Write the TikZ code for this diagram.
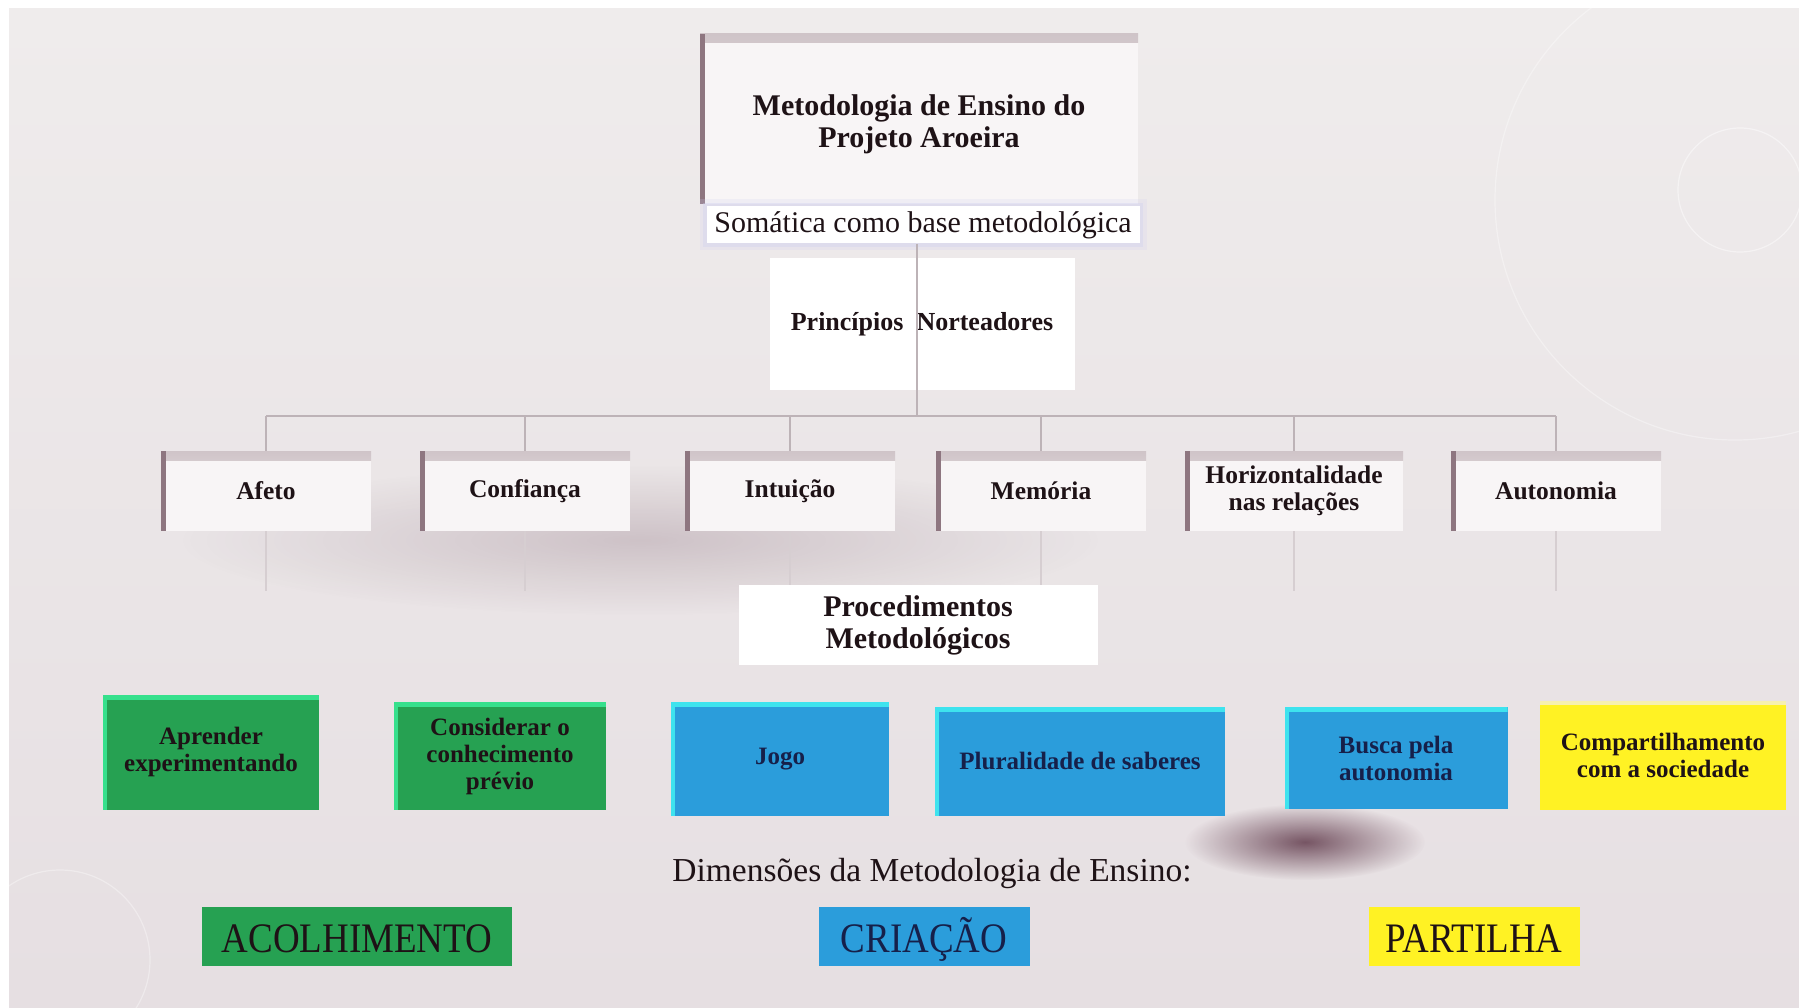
\documentclass[tikz,border=0pt]{standalone}
\usepackage{fontspec}
\setmainfont{Liberation Serif}
\newfontfamily\condrm[FakeStretch=0.88]{Liberation Serif}
\usetikzlibrary{fadings}
\tikzfading[name=softfade, inner color=transparent!0, outer color=transparent!100]
\definecolor{bgtop}{HTML}{EFECEC}
\definecolor{bgbot}{HTML}{E6DFE2}
\definecolor{wfill}{HTML}{F8F5F6}
\definecolor{wleft}{HTML}{8E7680}
\definecolor{wtop}{HTML}{CFC4C8}
\definecolor{gfill}{HTML}{26A152}
\definecolor{gedge}{HTML}{36E08C}
\definecolor{bfill}{HTML}{2B9DDB}
\definecolor{bedge}{HTML}{3EE3EE}
\definecolor{yfill}{HTML}{FFF224}
\definecolor{yedge}{HTML}{F6F0B0}
\definecolor{ink}{HTML}{1E1216}
\definecolor{navy}{HTML}{16204A}
\definecolor{lineg}{HTML}{BDB3B7}
\definecolor{faint}{HTML}{D6CED1}
\definecolor{glow}{HTML}{CFCFF0}
\definecolor{blob}{HTML}{6A4656}
\tikzset{
  wbox/.style={fill=wfill, inner sep=2pt, align=center, text=ink,
    path picture={
      \shade[top color=wtop, bottom color=wfill] (path picture bounding box.north west) rectangle ([yshift=-9pt]path picture bounding box.north east);
      \fill[wleft] (path picture bounding box.north west) rectangle ([xshift=5pt]path picture bounding box.south west);
    }},
  cbox/.style={fill=#1, inner sep=2pt, align=center},
  gbox/.style={cbox=gfill, text=ink,
    path picture={
      \fill[gedge] (path picture bounding box.north west) rectangle ([yshift=-5pt]path picture bounding box.north east);
      \fill[gedge] (path picture bounding box.north west) rectangle ([xshift=4pt]path picture bounding box.south west);
    }},
  bbox/.style={cbox=bfill, text=navy,
    path picture={
      \fill[bedge] (path picture bounding box.north west) rectangle ([yshift=-5pt]path picture bounding box.north east);
      \fill[bedge] (path picture bounding box.north west) rectangle ([xshift=4pt]path picture bounding box.south west);
    }},
  ybox/.style={cbox=yfill, text=ink,
    path picture={
      \fill[yedge] (path picture bounding box.north west) rectangle ([yshift=-4pt]path picture bounding box.north east);
    }},
  dbox/.style={fill=#1, inner xsep=2pt, inner ysep=0pt, text height=44pt, text depth=12pt,
    minimum height=59pt, font=\condrm\fontsize{42}{44}\selectfont},
  btxt/.style={font=\bfseries\fontsize{25.5}{27}\selectfont},
  gtxt/.style={font=\bfseries\fontsize{25}{27}\selectfont},
  conn/.style={draw=lineg, line width=1.2pt},
  fconn/.style={draw=faint, line width=1.2pt},
}
\begin{document}
\begin{tikzpicture}[x=1pt,y=-1pt]
\useasboundingbox (0,0) rectangle (1799,1008);
\fill[white] (0,0) rectangle (1799,1008);
\begin{scope}
\clip (9,9) rectangle (1799,1008);
\shade[top color=bgtop, bottom color=bgbot] (9,9) rectangle (1799,1008);
% decorative faint circles
\draw[white, opacity=0.45, line width=1.2pt] (1740,190) circle [radius=62];
\draw[white, opacity=0.35, line width=1.2pt] (1735,200) circle [radius=240];
\draw[white, opacity=0.35, line width=1.2pt] (60,960) circle [radius=90];
% shadows
\fill[blob, opacity=0.22, path fading=softfade] (640,540) ellipse [x radius=460, y radius=75];
\fill[blob, opacity=0.9, path fading=softfade] (1305,842) ellipse [x radius=120, y radius=38];
\end{scope}

% top
\node[wbox, minimum width=438pt, minimum height=170pt, font=\bfseries\fontsize{30}{32}\selectfont] (title) at (919,119) {\rule{0pt}{32pt}Metodologia de Ensino do\\Projeto Aroeira};
\node[fill=white, preaction={draw=glow, line width=14pt, opacity=0.2}, preaction={draw=glow, line width=7pt, opacity=0.35},
  minimum width=433pt, minimum height=37pt, inner sep=0pt, text=ink, font=\fontsize{30}{32}\selectfont] (soma) at (923,225) {Somática como base metodológica};
\node[fill=white, minimum width=305pt, minimum height=132pt, text=ink, font=\bfseries\fontsize{26}{28}\selectfont] (princ) at (922,324) {Princípios\ \ Norteadores};

% principles row
\node[wbox, btxt, minimum width=210pt, minimum height=80pt] (afeto) at (266,491) {Afeto};
\node[wbox, btxt, minimum width=210pt, minimum height=80pt] (conf) at (525,491) {Confiança};
\node[wbox, btxt, minimum width=210pt, minimum height=80pt] (intu) at (790,491) {Intuição};
\node[wbox, btxt, minimum width=210pt, minimum height=80pt] (memo) at (1041,491) {Memória};
\node[wbox, btxt, minimum width=218pt, minimum height=80pt] (hori) at (1294,491) {Horizontalidade\\nas relações};
\node[wbox, btxt, minimum width=210pt, minimum height=80pt] (auto) at (1556,491) {Autonomia};

% connectors
\coordinate (j) at (917,416);
\draw[conn] (soma.south -| j) -- (j);
\draw[conn] (afeto.north |- j) -- (auto.north |- j);
\foreach \n in {afeto,conf,intu,memo,hori,auto} {
  \draw[conn] (\n.north |- j) -- (\n.north);
  \draw[fconn] (\n.south) -- ++(0,60);
}

\node[fill=white, align=center, minimum width=359pt, minimum height=80pt, text=ink, font=\bfseries\fontsize{30}{32}\selectfont] (proc) at (918,625) {Procedimentos\\Metodológicos};

% procedures row
\node[gbox, gtxt, minimum width=216pt, minimum height=115pt] (apr) at (211,752) {Aprender\\experimentando};
\node[gbox, gtxt, minimum width=212pt, minimum height=108pt] (cons) at (500,756) {Considerar o\\conhecimento\\prévio};
\node[bbox, gtxt, minimum width=218pt, minimum height=114pt] (jogo) at (780,759) {Jogo};
\node[bbox, gtxt, minimum width=290pt, minimum height=109pt] (plur) at (1080,761) {Pluralidade de saberes};
\node[bbox, gtxt, minimum width=223pt, minimum height=102pt] (busc) at (1396,758) {Busca pela\\autonomia};
\node[ybox, gtxt, minimum width=246pt, minimum height=109pt] (comp) at (1663,755) {Compartilhamento\\com a sociedade};

% dimensions
\node[text=ink, font=\fontsize{33.5}{36}\selectfont] (dim) at (932,873) {Dimensões da Metodologia de Ensino:};
\node[dbox=gfill, text=ink, minimum width=310pt] (acol) at (357,936) {ACOLHIMENTO};
\node[dbox=bfill, text=navy, minimum width=211pt] (cria) at (924,936) {CRIAÇÃO};
\node[dbox=yfill, text=ink, minimum width=211pt] (part) at (1474,936) {PARTILHA};
\end{tikzpicture}
\end{document}
